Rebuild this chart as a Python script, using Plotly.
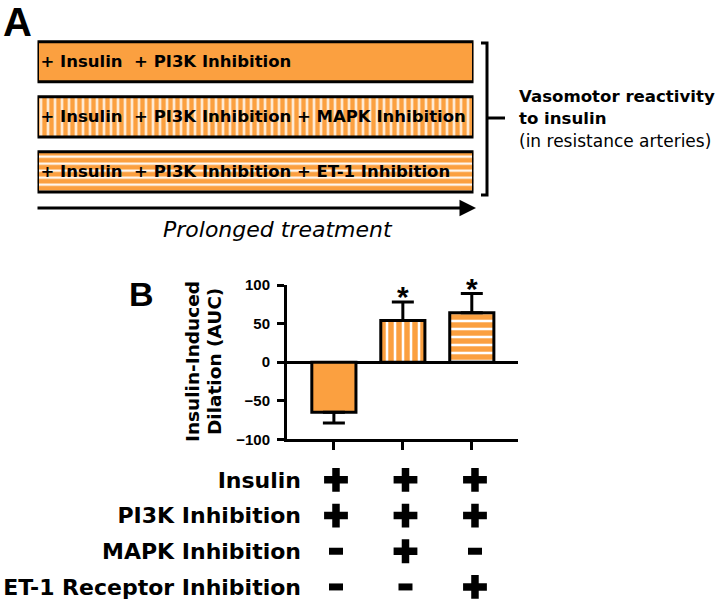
import plotly.graph_objects as go

W, H = 724, 604
ORANGE = "#FBA040"
BOLD_FONT = "DejaVu Sans"
ARIAL = "Liberation Sans, Arial"

# ---------------- data ----------------
box_labels = [
    "+ Insulin\u00a0 + PI3K Inhibition",
    "+ Insulin\u00a0 + PI3K Inhibition + MAPK Inhibition",
    "+ Insulin\u00a0 + PI3K Inhibition + ET-1 Inhibition",
]
box_duration = [1, 1, 1]
box_patterns = ["", "|", "-"]

groups = ["Ins+PI3K", "Ins+PI3K+MAPK", "Ins+PI3K+ET-1"]
auc_mean = [-65, 54, 64]
auc_err_plus = [0, 24, 25]
auc_err_minus = [14, 0, 0]
significant = [False, True, True]
bar_patterns = ["", "|", "-"]

y_ticks = [-100, -50, 0, 50, 100]

conditions = ["Insulin", "PI3K Inhibition", "MAPK Inhibition", "ET-1 Receptor Inhibition"]
insulin = ["+", "+", "+"]
pi3k = ["+", "+", "+"]
mapk = ["-", "+", "-"]
et1 = ["-", "-", "+"]
treatment_rows = [insulin, pi3k, mapk, et1]


def px(x):
    return x / W


def py(y):
    return 1 - y / H


fig = go.Figure()

# ---------------- Panel A: treatment boxes ----------------
fig.add_trace(go.Bar(
    x=box_duration, y=box_labels, orientation="h", base=0,
    xaxis="x2", yaxis="y2", width=0.73,
    marker=dict(color=ORANGE, line=dict(color="black", width=3),
                pattern=dict(shape=box_patterns, fgcolor="white", bgcolor=ORANGE,
                             size=7, solidity=0.3, fgopacity=1)),
    text=box_labels, textposition="inside", insidetextanchor="start",
    insidetextfont=dict(family=BOLD_FONT, size=16.5, color="black", weight="bold"),
    constraintext="none", showlegend=False, hoverinfo="skip",
))

# ---------------- Panel B: bar chart ----------------
fig.add_trace(go.Bar(
    x=groups, y=auc_mean, xaxis="x", yaxis="y", width=0.64,
    marker=dict(color=ORANGE, line=dict(color="black", width=3),
                pattern=dict(shape=bar_patterns, fgcolor="white", bgcolor=ORANGE,
                             size=8, solidity=0.32, fgopacity=1)),
    error_y=dict(type="data", symmetric=False, array=auc_err_plus,
                 arrayminus=auc_err_minus, color="black", thickness=3, width=11),
    showlegend=False, hoverinfo="skip",
))

# ---------------- Treatment table ----------------
plus_x, plus_y, minus_x, minus_y = [], [], [], []
for cond, row in zip(conditions, treatment_rows):
    for g, v in zip(groups, row):
        if v == "+":
            plus_x.append(g); plus_y.append(cond)
        else:
            minus_x.append(g); minus_y.append(cond)

fig.add_trace(go.Scatter(
    x=plus_x, y=plus_y, xaxis="x3", yaxis="y3", mode="markers",
    marker=dict(symbol="cross-thin", size=17, line=dict(color="black", width=7.5)),
    showlegend=False, hoverinfo="skip", cliponaxis=False,
))
fig.add_trace(go.Scatter(
    x=minus_x, y=minus_y, xaxis="x3", yaxis="y3", mode="markers",
    marker=dict(symbol="line-ew", size=10, line=dict(color="black", width=7)),
    showlegend=False, hoverinfo="skip", cliponaxis=False,
))

annotations = []
# significance stars
for g, m, e, s in zip(groups, auc_mean, auc_err_plus, significant):
    if s:
        annotations.append(dict(x=g, y=m + e, xref="x", yref="y", text="*",
                                showarrow=False, yanchor="middle", yshift=5,
                                font=dict(family=ARIAL, size=30, color="black", weight="bold")))

# panel letters
annotations.append(dict(x=px(1), y=1, xref="paper", yref="paper", text="A",
                        showarrow=False, xanchor="left", yanchor="top", yshift=2,
                        font=dict(family=ARIAL, size=40, color="black", weight="bold")))
annotations.append(dict(x=px(127), y=py(294), xref="paper", yref="paper", text="B",
                        showarrow=False, xanchor="left", yanchor="middle",
                        font=dict(family=ARIAL, size=34, color="black", weight="bold")))

# y-axis title (two lines)
annotations.append(dict(x=px(193), y=py(362), xref="paper", yref="paper",
                        text="Insulin-Induced", textangle=-90, showarrow=False,
                        xanchor="center", yanchor="middle",
                        font=dict(family=BOLD_FONT, size=18.5, color="black", weight="bold")))
annotations.append(dict(x=px(215), y=py(362), xref="paper", yref="paper",
                        text="Dilation (AUC)", textangle=-90, showarrow=False,
                        xanchor="center", yanchor="middle",
                        font=dict(family=BOLD_FONT, size=18.5, color="black", weight="bold")))

# arrow + label
annotations.append(dict(x=px(476), y=py(208), xref="paper", yref="paper",
                        ax=-440, ay=0, text="", showarrow=True,
                        arrowhead=2, arrowsize=1.1, arrowwidth=3, arrowcolor="black"))
annotations.append(dict(x=px(278), y=py(229), xref="paper", yref="paper",
                        text="Prolonged treatment", showarrow=False,
                        xanchor="center", yanchor="middle",
                        font=dict(family=BOLD_FONT, size=22, color="black", style="italic")))

# right-hand label
annotations.append(dict(x=px(517), y=py(97), xref="paper", yref="paper",
                        text="Vasomotor reactivity", showarrow=False,
                        xanchor="left", yanchor="middle",
                        font=dict(family=BOLD_FONT, size=16.6, color="black", weight="bold")))
annotations.append(dict(x=px(517), y=py(119), xref="paper", yref="paper",
                        text="to insulin", showarrow=False,
                        xanchor="left", yanchor="middle",
                        font=dict(family=BOLD_FONT, size=16.6, color="black", weight="bold")))
annotations.append(dict(x=px(517), y=py(141), xref="paper", yref="paper",
                        text="(in resistance arteries)", showarrow=False,
                        xanchor="left", yanchor="middle",
                        font=dict(family=BOLD_FONT, size=17, color="black")))

shapes = [
    dict(type="path", xref="paper", yref="paper",
         path=f"M {px(481)},{py(43)} L {px(487)},{py(43)} L {px(487)},{py(195)} L {px(481)},{py(195)}",
         line=dict(color="black", width=3)),
    dict(type="line", xref="paper", yref="paper",
         x0=px(488), x1=px(505), y0=py(118), y1=py(118),
         line=dict(color="black", width=3)),
]

fig.update_layout(
    width=W, height=H, autosize=False,
    margin=dict(l=0, r=0, t=0, b=0, autoexpand=False),
    paper_bgcolor="white", plot_bgcolor="white",
    annotations=annotations, shapes=shapes, showlegend=False,
    xaxis=dict(domain=[px(287), px(518)], range=[-0.68, 2.67], anchor="y",
               type="category", categoryarray=groups, categoryorder="array",
               showline=True, linewidth=3, linecolor="black", automargin=False,
               ticks="outside", ticklen=8, tickwidth=3, tickcolor="black",
               showticklabels=False, showgrid=False, zeroline=False),
    yaxis=dict(domain=[py(439.3), py(285)], range=[-100, 100], anchor="x",
               tickvals=y_ticks, ticks="outside", ticklen=7, tickwidth=3, tickcolor="black",
               showline=True, linewidth=3, linecolor="black", automargin=False,
               zeroline=True, zerolinewidth=3, zerolinecolor="black",
               showgrid=False, ticklabelstandoff=4,
               tickfont=dict(family=ARIAL, size=15, color="black", weight="bold")),
    xaxis2=dict(domain=[px(37.5), px(473.5)], range=[0, 1], anchor="y2", visible=False,
                automargin=False),
    yaxis2=dict(domain=[py(199.5), py(34.2)], range=[2.5, -0.5], anchor="x2",
                type="category", categoryarray=box_labels, categoryorder="array",
                visible=False, automargin=False),
    xaxis3=dict(domain=[px(310), px(518)], range=[-0.374, 2.619], anchor="y3",
                type="category", categoryarray=groups, categoryorder="array",
                visible=False, automargin=False),
    yaxis3=dict(domain=[0, py(462)], range=[3.478, -0.5], anchor="x3",
                type="category", categoryarray=conditions, categoryorder="array",
                showline=False, showgrid=False, zeroline=False, ticks="",
                ticklabelstandoff=8, automargin=False,
                tickfont=dict(family=BOLD_FONT, size=22, color="black", weight="bold")),
)

fig.write_html("out.html",
               config={"displayModeBar": False},
               post_script="document.body.style.margin='0';document.body.style.overflow='hidden';")
